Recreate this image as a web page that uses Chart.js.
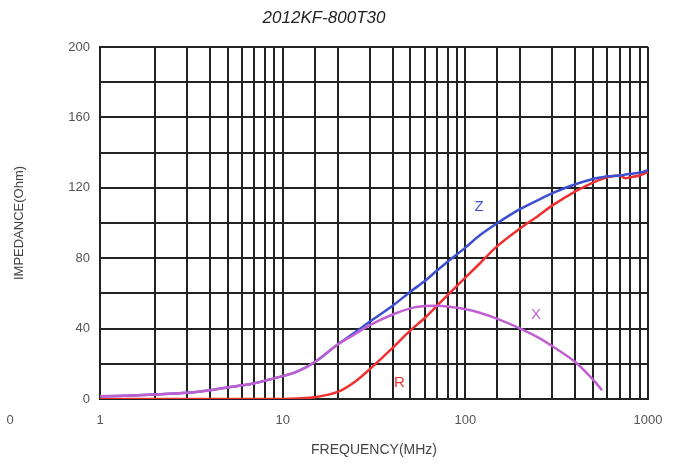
<!DOCTYPE html>
<html>
<head>
<meta charset="utf-8">
<script src="https://cdn.jsdelivr.net/npm/chart.js@4"></script>
<style>
  html, body { margin: 0; padding: 0; background: #fff; }
  #wrap { width: 677px; height: 469px; }
</style>
</head>
<body>
<div id="wrap"><canvas id="impedance"></canvas></div>
<script>
// frequency points (MHz)
const freq = [1, 1.5, 2, 3, 4, 5, 7, 10, 12, 15, 20, 25, 30, 40, 50, 60, 70, 80, 100, 120, 150, 200, 250, 300, 400, 500, 560, 600, 700, 750, 800, 900, 1000];

// impedance values (Ohm)
const zValues = [1.5, 2, 2.5, 3.5, 5, 6.5, 9, 13, 15.5, 21, 31, 38, 44, 53, 61, 67, 73, 78, 86, 93, 100, 108, 113, 117, 122, 125, 126, 126.5, 127, 127.5, 128, 128.5, 130];
const rValues = [0, 0, 0, 0, 0, 0, 0, 0, 0.3, 1, 4, 10, 17, 29, 39, 46, 53, 59, 69, 77, 87, 97, 104, 110, 118, 123, 125, 126, 127, 125.5, 126, 127, 129];
const xValues = [1.5, 2, 2.5, 3.5, 5, 6.5, 9, 13, 15.5, 21, 31, 37, 42, 48, 51.5, 52.8, 53, 52.5, 51, 49, 45.5, 40, 35, 30, 21, 11, 5, null, null, null, null, null, null];

// curve name labels placed at (freq, value)
const curveLabels = [
  { text: 'Z', f: 119, v: 109, color: '#3b4fd0' },
  { text: 'X', f: 244, v: 48, color: '#c060d0' },
  { text: 'R', f: 43.5, v: 9, color: '#f03030' },
];

const toPoints = (vals) => freq.map((f, i) => ({ x: f, y: vals[i] }));

const curveText = {
  id: 'curveText',
  afterDatasetsDraw(chart) {
    const { ctx, scales } = chart;
    ctx.save();
    ctx.font = '15px "Liberation Sans", Arial, sans-serif';
    ctx.textAlign = 'center';
    ctx.textBaseline = 'middle';
    curveLabels.forEach((l) => {
      ctx.fillStyle = l.color;
      ctx.fillText(l.text, scales.x.getPixelForValue(l.f), scales.y.getPixelForValue(l.v));
    });
    // stray tick label from the neighbouring chart at the left edge
    ctx.fillStyle = '#555';
    ctx.font = '13px "Liberation Sans", Arial, sans-serif';
    ctx.fillText('0', 10, 420);
    ctx.restore();
  },
};

new Chart(document.getElementById('impedance'), {
  type: 'line',
  data: {
    datasets: [
      { label: 'X', data: toPoints(xValues), borderColor: '#c060d0', borderWidth: 2.5, pointRadius: 0, tension: 0.3, spanGaps: false },
      { label: 'Z', data: toPoints(zValues), borderColor: '#3b4fd0', borderWidth: 2.5, pointRadius: 0, tension: 0.3 },
      { label: 'R', data: toPoints(rValues), borderColor: '#f03030', borderWidth: 2.5, pointRadius: 0, tension: 0.3 },
    ],
  },
  options: {
    responsive: true,
    maintainAspectRatio: false,
    animation: false,
    layout: { padding: { left: 0, right: 29, top: 0, bottom: 0 } },
    plugins: {
      legend: { display: false },
      tooltip: { enabled: false },
      title: {
        display: true,
        text: '2012KF-800T30',
        color: '#222',
        font: { family: '"Liberation Sans", Arial, sans-serif', size: 17, style: 'italic', weight: 'normal' },
        padding: { top: 8, bottom: 18.6 },
      },
    },
    scales: {
      x: {
        type: 'logarithmic',
        min: 1,
        max: 1000,
        afterFit: (s) => { s.height = 70; },
        grid: { color: '#222', lineWidth: 2, drawTicks: false },
        border: { color: '#222', width: 2 },
        ticks: {
          autoSkip: false,
          maxRotation: 0,
          padding: 14,
          color: '#555',
          font: { family: '"Liberation Sans", Arial, sans-serif', size: 13 },
          callback: (v) => ([1, 10, 100, 1000].includes(v) ? String(v) : ''),
        },
        title: {
          display: true,
          text: 'FREQUENCY(MHz)',
          color: '#444',
          font: { family: '"Liberation Sans", Arial, sans-serif', size: 14 },
          padding: { top: 0, bottom: 10 },
        },
      },
      y: {
        min: 0,
        max: 200,
        afterFit: (s) => { s.width = 100; },
        grid: { color: '#222', lineWidth: 2, drawTicks: false },
        border: { color: '#222', width: 2 },
        ticks: {
          stepSize: 20,
          padding: 10,
          color: '#555',
          font: { family: '"Liberation Sans", Arial, sans-serif', size: 13 },
          callback: (v) => (v % 40 === 0 ? String(v) : ''),
        },
        title: {
          display: true,
          text: 'IMPEDANCE(Ohm)',
          color: '#444',
          font: { family: '"Liberation Sans", Arial, sans-serif', size: 13 },
          padding: { top: 12, bottom: 0 },
        },
      },
    },
  },
  plugins: [curveText],
});
</script>
</body>
</html>
